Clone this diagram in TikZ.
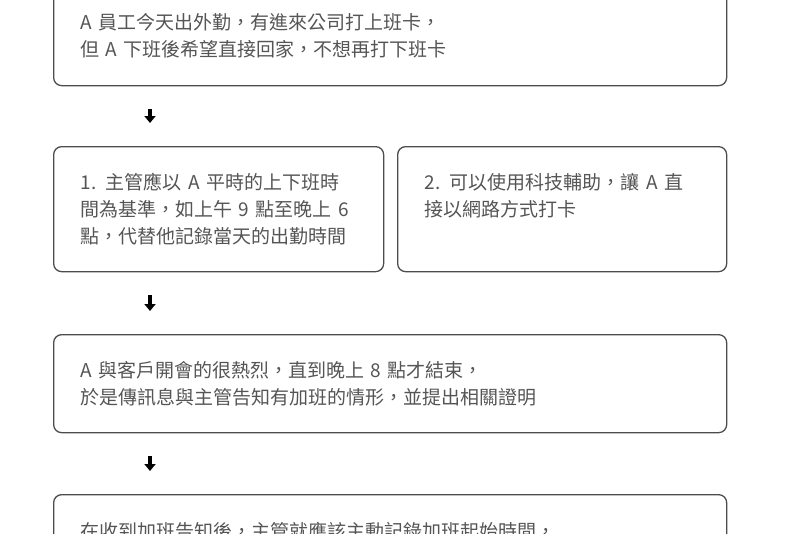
\documentclass[tikz,border=0pt]{standalone}
\usepackage{fontspec}
\setmainfont{Noto Sans CJK TC}
\usetikzlibrary{arrows.meta}
\definecolor{boxgray}{HTML}{4D4D4D}
\definecolor{txtgray}{HTML}{555555}

\begin{document}
\begin{tikzpicture}[x=1pt, y=-1pt,
    stepbox/.style={draw=boxgray, line width=1.3pt, rounded corners=8pt, anchor=north west,
        align=left, inner xsep=27pt, inner ysep=0pt, text=txtgray,
        font=\fontsize{19}{27}\selectfont},
    flow/.style={-{Triangle[width=11pt,length=7pt]}, line width=4pt, black,
        shorten <=23pt, shorten >=23pt}]
        \useasboundingbox (0,0) rectangle (800,533);

        \node[stepbox, text width=619pt, minimum width=673pt, minimum height=99pt] (out) at (53,-14)
            {A 員工今天出外勤，有進來公司打上班卡，\\但 A 下班後希望直接回家，不想再打下班卡};
        \node[stepbox, text width=276pt, minimum width=330pt, minimum height=125pt] (opt1) at (53,146)
            {1. 主管應以 A 平時的上下班時\\間為基準，如上午 9 點至晚上 6\\點，代替他記錄當天的出勤時間};
        \node[stepbox, text width=275pt, minimum width=329pt, minimum height=125pt] (opt2) at (397,146)
            {2. 可以使用科技輔助，讓 A 直\\接以網路方式打卡\\\phantom{接}};
        \node[stepbox, text width=619pt, minimum width=673pt, minimum height=98pt] (late) at (53,334)
            {A 與客戶開會的很熱烈，直到晚上 8 點才結束，\\於是傳訊息與主管告知有加班的情形，並提出相關證明};
        \node[stepbox, text width=619pt, minimum width=673pt, minimum height=99pt] (rec) at (53,494)
            {在收到加班告知後，主管就應該主動記錄加班起始時間，\\\phantom{在}};

        \coordinate (ax) at (150,0);
        \draw[flow] (out.south -| ax) -- (opt1.north -| ax);
        \draw[flow] (opt1.south -| ax) -- (late.north -| ax);
        \draw[flow] (late.south -| ax) -- (rec.north -| ax);
    \end{tikzpicture}
\end{document}
